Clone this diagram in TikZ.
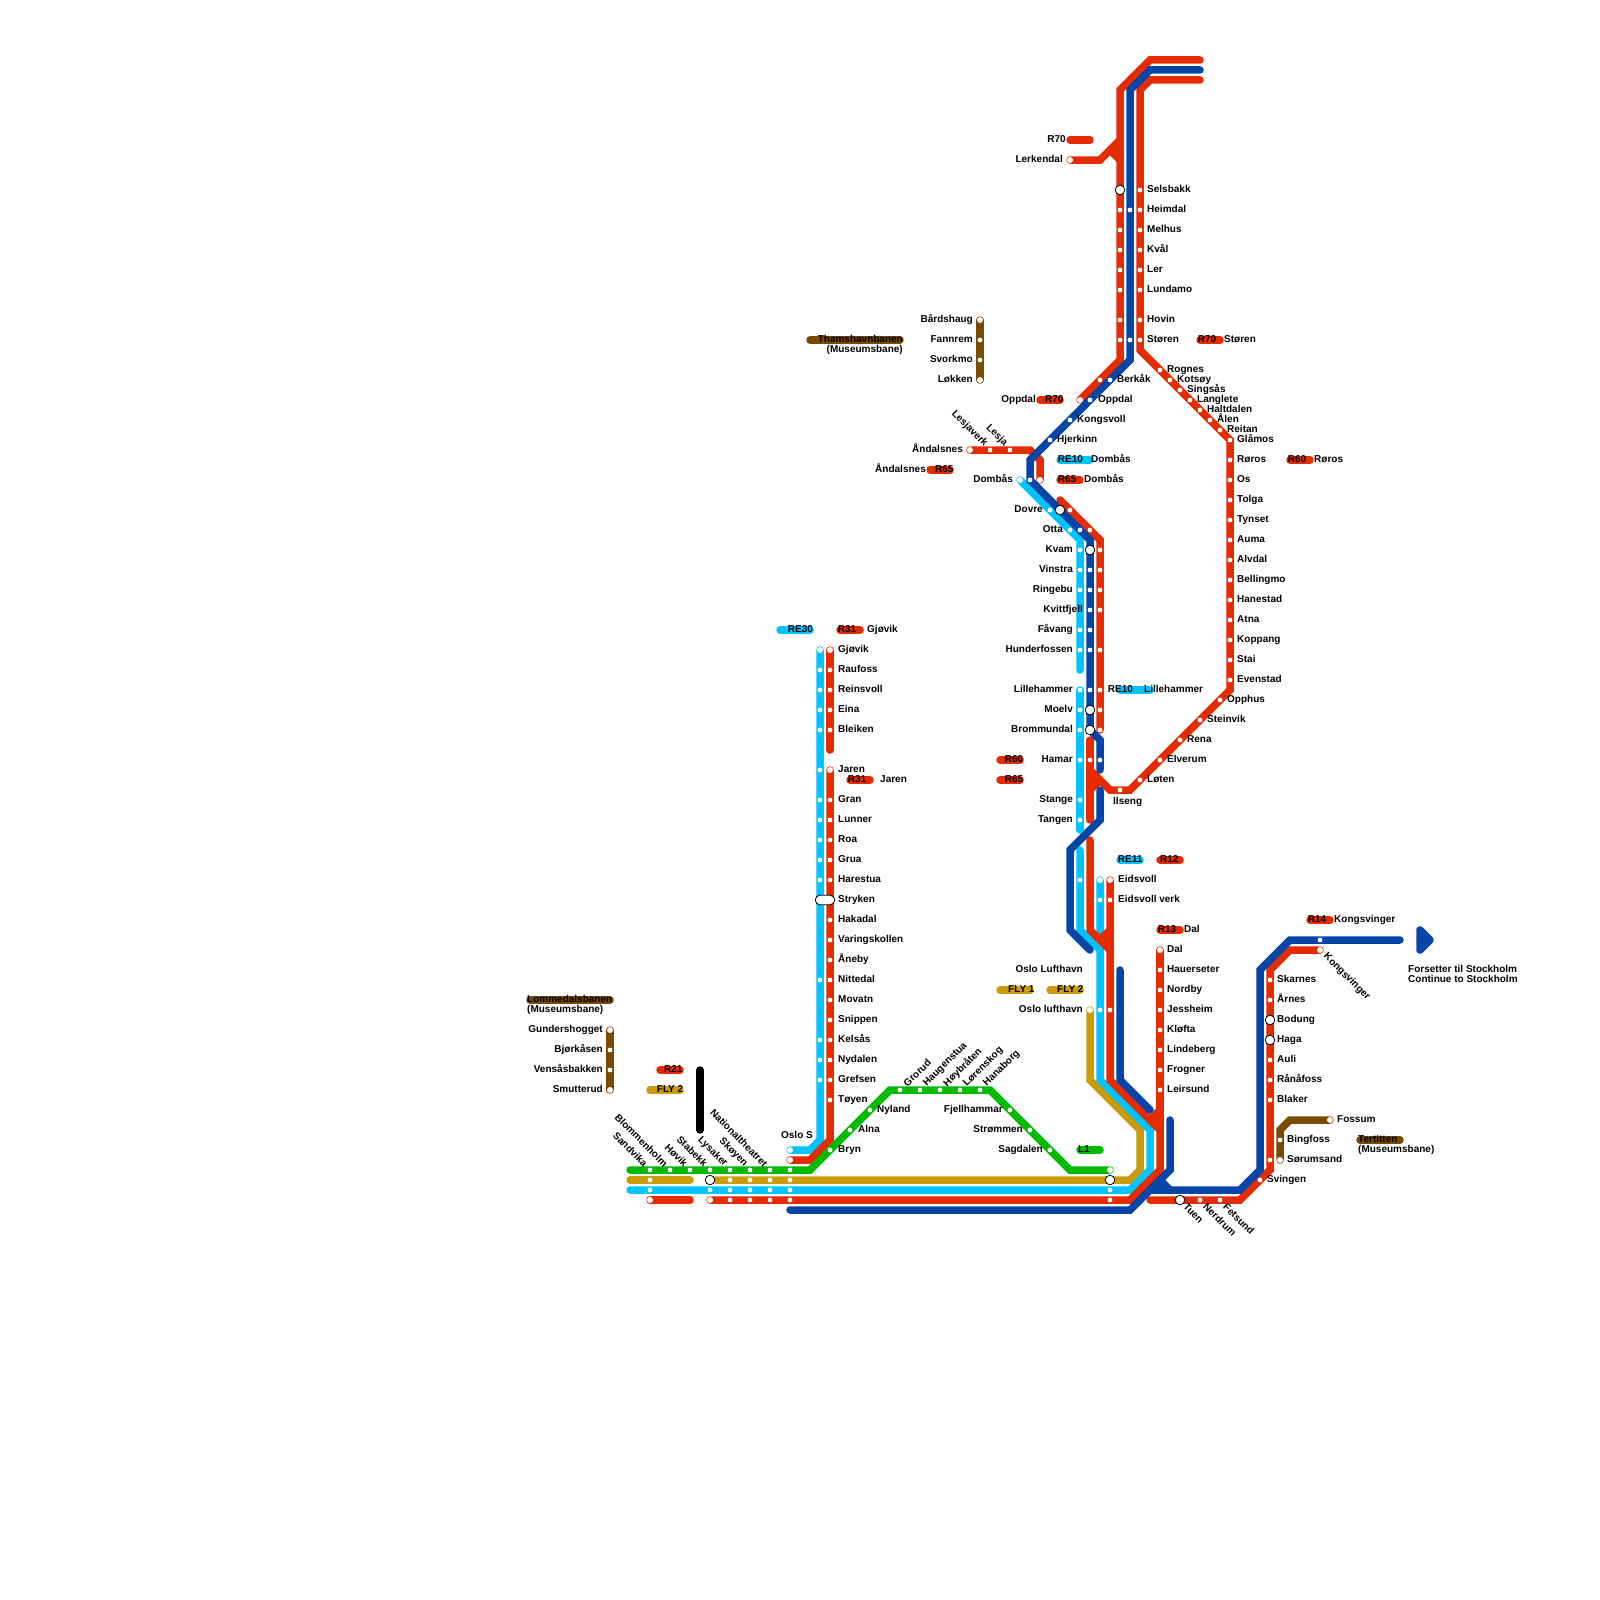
\documentclass[tikz,border=0pt]{standalone}
\usepackage{fontspec}
\setmainfont{Liberation Sans}
\usepackage{xcolor}
\definecolor{redl}{HTML}{E52B00}
\definecolor{bluel}{HTML}{0645A8}
\definecolor{skyl}{HTML}{00C4FF}
\definecolor{greenl}{HTML}{03BA03}
\definecolor{goldl}{HTML}{CC9C08}
\definecolor{brownl}{HTML}{7A4A00}
\tikzset{
  rail/.style={line width=7.5pt,line cap=round},
  dot/.style={circle,fill=white,inner sep=0,minimum size=4.8pt},
  ring/.style={circle,fill=white,inner sep=0,minimum size=6pt},
  swap/.style={circle,draw=black,line width=0.8pt,fill=white,inner sep=0,minimum size=9.6pt},
  rlab/.style={inner sep=0,anchor=base west,font=\bfseries\fontsize{10}{10}\selectfont},
  llab/.style={inner sep=0,anchor=base east,font=\bfseries\fontsize{10}{10}\selectfont},
  dnlab/.style={inner sep=0,anchor=east,rotate=-45,font=\bfseries\fontsize{10}{10}\selectfont},
  uplab/.style={inner sep=0,anchor=west,rotate=45,font=\bfseries\fontsize{10}{10}\selectfont},
  outlab/.style={inner sep=0,anchor=west,rotate=-45,font=\bfseries\fontsize{10}{10}\selectfont}
}
\begin{document}
\begin{tikzpicture}[x=1pt,y=-1pt]
  \useasboundingbox (0,0) rectangle (1600,1600);

  % gold
  \draw[rail,goldl] (630,1180) -- (690,1180);
  \draw[rail,goldl] (716,1180) -- (1130,1180) -- (1140,1170) -- (1140,1130) -- (1090,1080) -- (1090,1010);
  % light blue
  \draw[rail,skyl] (1020,480) -- (1080,540) -- (1080,670);
  \draw[rail,skyl] (1080,690) -- (1080,830);
  \draw[rail,skyl] (1080,850) -- (1080,930) -- (1100,950);
  \draw[rail,skyl] (1100,880) -- (1100,1080) -- (1150,1130) -- (1150,1170) -- (1130,1190) -- (630,1190);
  \draw[rail,skyl] (820,650) -- (820,1140) -- (810,1150) -- (790,1150);
  % red
  \draw[rail,redl] (1200,60) -- (1150,60) -- (1120,90) -- (1120,360) -- (1080,400);
  \draw[rail,redl] (1070,160) -- (1100,160) -- (1120,140);
  \draw[rail,redl] (1110,150) -- (1120,160);
  \fill[redl] (1110,150) -- (1120,140) -- (1120,160) -- cycle;
  \draw[rail,redl] (1200,80) -- (1150,80) -- (1140,90) -- (1140,350) -- (1230,440) -- (1230,690) -- (1130,790) -- (1110,790) -- (1090,770);
  \draw[rail,redl] (1090,740) -- (1090,820);
  \draw[rail,redl] (1090,790) -- (1100,780);
  \fill[redl] (1090,770) -- (1100,780) -- (1090,790) -- cycle;
  \draw[rail,redl] (970,450) -- (1030,450) -- (1040,460) -- (1040,480);
  \draw[rail,redl] (1060,500) -- (1100,540) -- (1100,730);
  \draw[rail,redl] (1090,840) -- (1090,930) -- (1110,950);
  \draw[rail,redl] (1100,940) -- (1110,930);
  \fill[redl] (1100,940) -- (1110,930) -- (1110,950) -- cycle;
  \draw[rail,redl] (1110,880) -- (1110,1080) -- (1160,1130) -- (1160,1170) -- (1130,1200) -- (710,1200);
  \draw[rail,redl] (1160,950) -- (1160,1130);
  \draw[rail,redl] (1150,1120) -- (1160,1110);
  \fill[redl] (1150,1120) -- (1160,1110) -- (1160,1130) -- cycle;
  \draw[rail,redl] (650,1200) -- (690,1200);
  \draw[rail,redl] (1150,1200) -- (1240,1200) -- (1270,1170) -- (1270,970) -- (1290,950) -- (1320,950);
  \draw[rail,redl] (830,650) -- (830,750);
  \draw[rail,redl] (830,770) -- (830,1140) -- (810,1160) -- (790,1160);
  % blue
  \draw[rail,bluel] (1200,70) -- (1150,70) -- (1130,90) -- (1130,360) -- (1030,460) -- (1030,480) -- (1090,540) -- (1090,730) -- (1100,740) -- (1100,770);
  \draw[rail,bluel] (1100,790) -- (1100,820) -- (1070,850) -- (1070,930) -- (1090,950);
  \draw[rail,bluel] (1120,970) -- (1120,1080) -- (1150,1110);
  \draw[rail,bluel] (1170,1120) -- (1170,1170) -- (1130,1210) -- (790,1210);
  \draw[rail,bluel] (1400,940) -- (1290,940) -- (1260,970) -- (1260,1170) -- (1240,1190) -- (1150,1190);
  \draw[rail,bluel] (1160,1180) -- (1170,1190);
  \fill[bluel] (1160,1180) -- (1170,1190) -- (1150,1190) -- cycle;
  \draw[line width=7.5pt,line join=round,bluel,fill=bluel] (1420,930) -- (1430,940) -- (1420,950) -- cycle;
  % green, brown, black
  \draw[rail,greenl] (630,1170) -- (810,1170) -- (890,1090) -- (990,1090) -- (1070,1170) -- (1110,1170);
  \draw[rail,brownl] (980,320) -- (980,380);
  \draw[rail,brownl] (610,1030) -- (610,1090);
  \draw[rail,brownl] (1280,1160) -- (1280,1130) -- (1290,1120) -- (1330,1120);
  \draw[rail,black] (700,1070) -- (700,1130);

  % pills
  \draw[rail,redl] (1070,140) -- (1090,140);
  \draw[rail,redl] (1040,400) -- (1060,400);
  \draw[rail,redl] (930,470) -- (950,470);
  \draw[rail,redl] (1200,340) -- (1220,340);
  \draw[rail,redl] (1290,460) -- (1310,460);
  \draw[rail,redl] (1060,480) -- (1080,480);
  \draw[rail,redl] (1000,760) -- (1020,760);
  \draw[rail,redl] (1000,780) -- (1020,780);
  \draw[rail,redl] (1160,860) -- (1180,860);
  \draw[rail,redl] (1160,930) -- (1180,930);
  \draw[rail,redl] (1310,920) -- (1330,920);
  \draw[rail,redl] (840,630) -- (860,630);
  \draw[rail,redl] (850,780) -- (870,780);
  \draw[rail,redl] (660,1070) -- (680,1070);
  \draw[rail,skyl] (1060,460) -- (1090,460);
  \draw[rail,skyl] (1120,690) -- (1150,690);
  \draw[rail,skyl] (1120,860) -- (1140,860);
  \draw[rail,skyl] (780,630) -- (810,630);
  \draw[rail,goldl] (1000,990) -- (1030,990);
  \draw[rail,goldl] (1050,990) -- (1080,990);
  \draw[rail,goldl] (650,1090) -- (680,1090);
  \draw[rail,greenl] (1080,1150) -- (1100,1150);
  \draw[rail,brownl] (810,340) -- (900,340);
  \draw[rail,brownl] (530,1000) -- (610,1000);
  \draw[rail,brownl] (1360,1140) -- (1400,1140);

  % stops
  \foreach \x/\y in {1120/210,1120/230,1120/250,1120/270,1120/290,1120/320,1120/340,
      1130/210,1130/340,
      1140/190,1140/210,1140/230,1140/250,1140/270,1140/290,1140/320,1140/340,
      1100/380,1110/380,1090/400,1070/420,1050/440,990/450,1010/450,1030/480,
      1160/370,1170/380,1180/390,1190/400,1200/410,1210/420,1220/430,
      1230/440,1230/460,1230/480,1230/500,1230/520,1230/540,1230/560,1230/580,1230/600,
      1230/620,1230/640,1230/660,1230/680,1220/700,1200/720,1180/740,1160/760,1140/780,1120/790,
      1050/510,1070/510,1070/530,1080/530,1090/530,
      1080/550,1080/570,1080/590,1080/630,1080/650,1080/690,1080/710,1080/730,1080/760,1080/800,1080/820,
      1090/570,1090/590,1090/610,1090/630,1090/650,1090/690,1090/760,1100/760,
      1100/550,1100/570,1100/590,1100/610,1100/650,1100/690,1100/710,1100/730,
      1080/880,1100/900,1110/900,1100/1010,1110/1010,
      1160/970,1160/990,1160/1010,1160/1030,1160/1050,1160/1070,1160/1090,
      1270/980,1270/1000,1270/1060,1270/1080,1270/1100,1270/1160,1260/1180,1200/1200,1220/1200,
      1320/940,1280/1140,
      980/340,980/360,610/1050,610/1070,
      820/670,820/690,820/710,820/730,820/770,820/800,820/820,820/840,820/860,820/880,820/980,820/1040,820/1060,820/1080,
      830/670,830/690,830/710,830/730,830/800,830/820,830/840,830/860,830/880,830/920,830/940,830/960,830/980,830/1000,830/1020,830/1040,830/1060,830/1080,830/1100,
      830/1150,850/1130,870/1110,900/1090,920/1090,940/1090,960/1090,980/1090,1010/1110,1030/1130,1050/1150,
      650/1170,670/1170,690/1170,710/1170,730/1170,750/1170,770/1170,790/1170,
      650/1180,730/1180,750/1180,770/1180,790/1180,
      650/1190,710/1190,730/1190,750/1190,770/1190,790/1190,1110/1190,
      730/1200,750/1200,770/1200,790/1200,1110/1200}
    \node[dot] (d\x-\y) at (\x,\y) {};
  \foreach \x/\y in {1070/160,1080/400,970/450,1040/480,1020/480,650/1200,710/1200,790/1150,790/1160,
      820/650,830/650,830/770,1100/880,1110/880,1090/1010,1160/950,1320/950,1110/1170,
      980/320,980/380,610/1030,610/1090,1330/1120,1280/1160}
    \node[ring] (r\x-\y) at (\x,\y) {};
  \foreach \x/\y in {1120/190,1060/510,1090/550,1090/710,1090/730,1270/1020,1270/1040,1180/1200,710/1180,1110/1180}
    \node[swap] (s\x-\y) at (\x,\y) {};
  \node[draw=black,line width=0.8pt,fill=white,rounded corners=4.8pt,inner sep=0,minimum width=19.6pt,minimum height=9.6pt] (stryken) at (825,900) {};

  % labels to the right of a column
  \foreach \x/\y/\name in {1147/190/Selsbakk,1147/210/Heimdal,1147/230/Melhus,1147/250/Kvål,1147/270/Ler,1147/290/Lundamo,1147/320/Hovin,1147/340/Støren,
      1117/380/Berkåk,1098/400/Oppdal,1077/420/Kongsvoll,1057/440/Hjerkinn,
      1167/370/Rognes,1177/380/Kotsøy,1187/390/Singsås,1197/400/Langlete,1207/410/Haltdalen,1217/420/Ålen,1227/430/Reitan,
      1237/440/Glåmos,1237/460/Røros,1237/480/Os,1237/500/Tolga,1237/520/Tynset,1237/540/Auma,1237/560/Alvdal,1237/580/Bellingmo,
      1237/600/Hanestad,1237/620/Atna,1237/640/Koppang,1237/660/Stai,1237/680/Evenstad,
      1227/700/Opphus,1207/720/Steinvik,1187/740/Rena,1167/760/Elverum,1147/780/Løten,1113/802/Ilseng,
      1118/880/Eidsvoll,1118/900/Eidsvoll verk,
      1167/950/Dal,1167/970/Hauerseter,1167/990/Nordby,1167/1010/Jessheim,1167/1030/Kløfta,1167/1050/Lindeberg,1167/1070/Frogner,1167/1090/Leirsund,
      1277/980/Skarnes,1277/1000/Årnes,1277/1020/Bodung,1277/1040/Haga,1277/1060/Auli,1277/1080/Rånåfoss,1277/1100/Blaker,1267/1180/Svingen,
      1337/1120/Fossum,1287/1140/Bingfoss,1287/1160/Sørumsand,
      838/650/Gjøvik,838/670/Raufoss,838/690/Reinsvoll,838/710/Eina,838/730/Bleiken,838/770/Jaren,838/800/Gran,838/820/Lunner,838/840/Roa,838/860/Grua,838/880/Harestua,838/900/Stryken,
      838/920/Hakadal,838/940/Varingskollen,838/960/Åneby,838/980/Nittedal,838/1000/Movatn,838/1020/Snippen,838/1040/Kelsås,838/1060/Nydalen,838/1080/Grefsen,838/1100/Tøyen,
      877/1110/Nyland,858/1130/Alna,838/1150/Bryn,
      1224/340/Støren,1314/460/Røros,1091/460/Dombås,1084/480/Dombås,1144/690/Lillehammer,1184/930/Dal,1334/920/Kongsvinger,867/630/Gjøvik,880/780/Jaren,
      1197.7/340/R70,1287.7/460/R60,1045/400/R70,935/470/R65,1057.7/460/RE10,1057.7/480/R65,1107.7/690/RE10,
      1004.7/760/R60,1004.7/780/R65,1117.7/860/RE11,1160/860/R12,1157.7/930/R13,1307.7/920/R14,
      787.7/630/RE30,837.7/630/R31,847.7/780/R31,664/1070/R21,656.7/1090/FLY 2,1008/990/FLY 1,1057/990/FLY 2,1078/1150/L1,
      1358/1140/Tertitten,1358/1150/(Museumsbane),527/1000/Lommedalsbanen,527/1010/(Museumsbane),
      1408/969.5/Forsetter til Stockholm,1408/979.5/Continue to Stockholm}
    \node[rlab] (a\x-\y) at (\x,\y+2.5) {\name};
  % labels to the left of a column
  \foreach \x/\y/\name in {1066/140/R70,1063/160/Lerkendal,973/320/Bårdshaug,973/340/Fannrem,973/360/Svorkmo,973/380/Løkken,
      1036/400/Oppdal,963/450/Åndalsnes,926/470/Åndalsnes,1013/480/Dombås,1043/510/Dovre,1063/530/Otta,
      1073/550/Kvam,1073/570/Vinstra,1073/590/Ringebu,1083/610/Kvittfjell,1073/630/Fåvang,1073/650/Hunderfossen,
      1073/690/Lillehammer,1073/710/Moelv,1073/730/Brommundal,1073/760/Hamar,1073/800/Stange,1073/820/Tangen,
      1083/970/Oslo Lufthavn,1083/1010/Oslo lufthavn,
      603/1030/Gundershogget,603/1050/Bjørkåsen,603/1070/Vensåsbakken,603/1090/Smutterud,
      813/1136/Oslo S,1003/1110/Fjellhammar,1023/1130/Strømmen,1043/1150/Sagdalen,
      903/340/Thamshavnbanen,903/350/(Museumsbane)}
    \node[llab] (b\x-\y) at (\x,\y+2.5) {\name};
  % slanted labels
  \foreach \x/\y/\name in {986/445/Lesjaverk,1006/445/Lesja,646/1165/Sandvika,666/1165/Blommenholm,686/1165/Høvik,706/1165/Stabekk,726/1165/Lysaker,746/1165/Skøyen,766/1165/Nationaltheatret}
    \node[dnlab] (c\x-\y) at (\x,\y) {\name};
  \foreach \x/\y/\name in {905/1085/Grorud,925/1085/Haugenstua,945/1085/Høybråten,965/1085/Lørenskog,985/1085/Hanaborg}
    \node[uplab] (e\x-\y) at (\x,\y) {\name};
  \foreach \x/\y/\name in {1185/1205/Tuen,1205/1205/Nerdrum,1225/1205/Fetsund,1325/955/Kongsvinger}
    \node[outlab] (f\x-\y) at (\x,\y) {\name};
\end{tikzpicture}
\end{document}
